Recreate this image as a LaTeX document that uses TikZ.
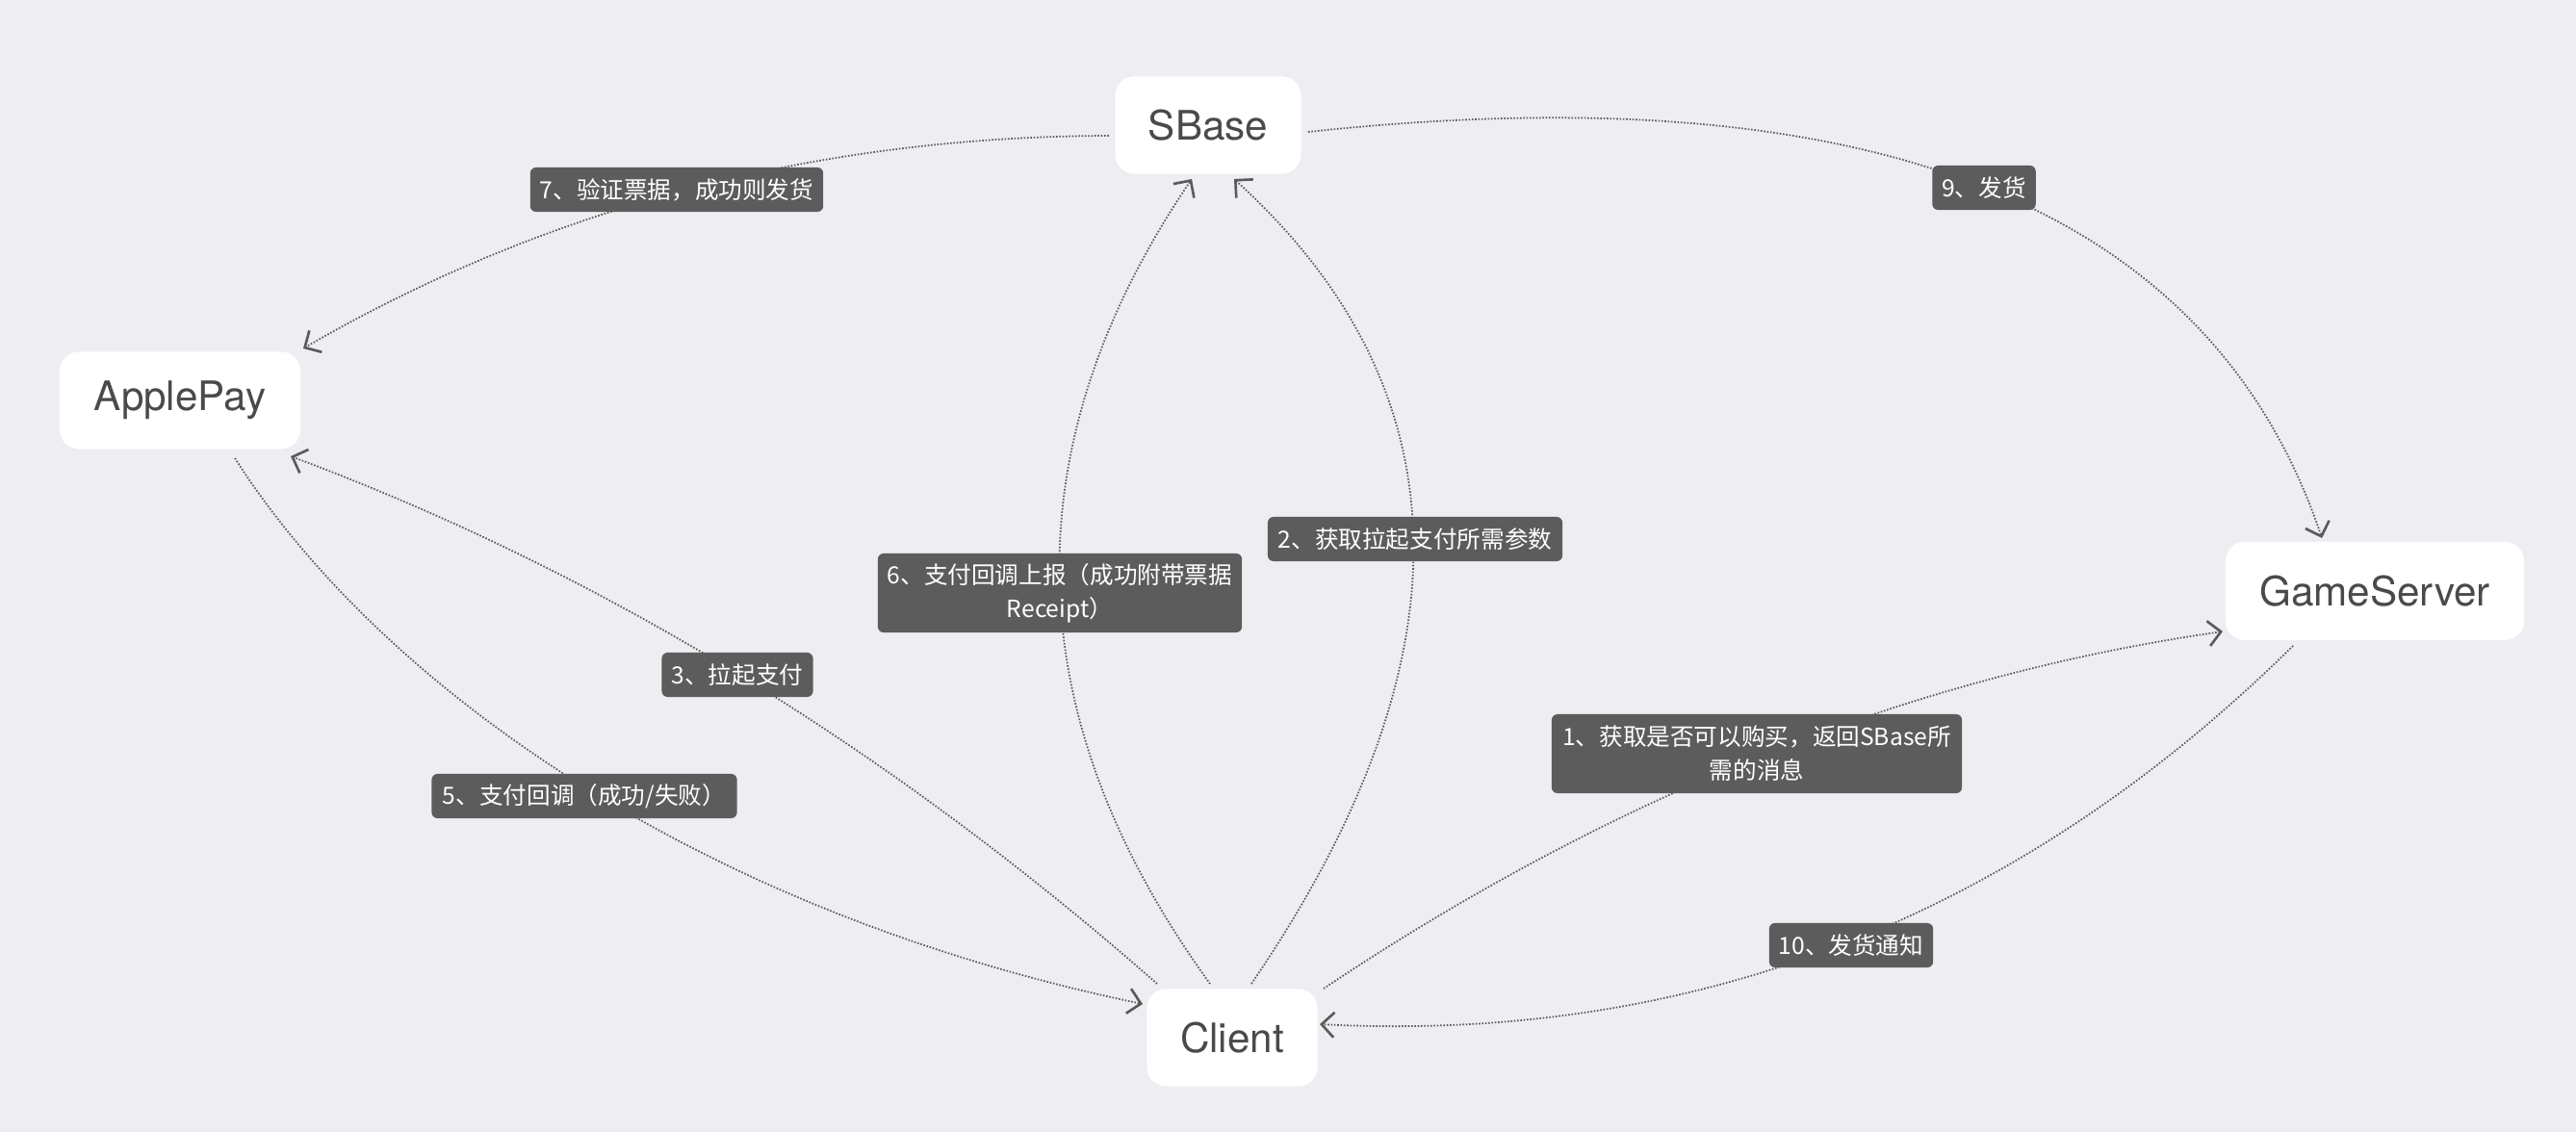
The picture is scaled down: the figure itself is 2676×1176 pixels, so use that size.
\documentclass[tikz,border=0pt]{standalone}
\usepackage{fontspec}
\setmainfont{TeX Gyre Heros}
\newfontfamily\cjk{Noto Sans CJK SC}
\usetikzlibrary{arrows.meta}
\definecolor{bgc}{HTML}{EEEEF2}
\definecolor{nodetext}{HTML}{4A4A4A}
\definecolor{labfill}{HTML}{5C5C5C}
\definecolor{linec}{HTML}{5A5A5A}
\tikzset{
  entity/.style={fill=white, rounded corners=0.2cm, inner sep=0pt, text=nodetext,
    font=\fontsize{12}{14}\selectfont, minimum height=1.01cm},
  lab/.style={fill=labfill, rounded corners=0.06cm, inner xsep=0.1cm, inner ysep=2.6pt,
    text=white, align=center, font=\cjk\fontsize{7}{10}\selectfont, minimum height=0.46cm},
  flow/.style={draw=linec, line width=0.5pt, dash pattern=on 0.45pt off 0.5pt,
    -{Straight Barb[length=0.13cm,width=0.26cm,line width=0.75pt]}},
}
\begin{document}
\begin{tikzpicture}[x=0.01cm,y=-0.01cm]
\fill[bgc] (0,0) rectangle (2676,1176);
\useasboundingbox (0,0) rectangle (2676,1176);

% entities
\node[entity, minimum width=1.93cm] (sbase) at (1255,130) {SBase};
\node[entity, minimum width=2.50cm] (applepay) at (187,416) {ApplePay};
\node[entity, minimum width=1.77cm] (client) at (1280,1078) {Client};
\node[entity, minimum width=3.10cm, minimum height=1.02cm] (gameserver) at (2467,614) {GameServer};

% connectors
% 1
\draw[flow] ([shift={(95,-51)}]client.center) .. controls (1677,825) and (1988,702) .. ([shift={(-158,42)}]gameserver.center);
% 2
\draw[flow] ([shift={(20,-56)}]client.center) .. controls (1530,685) and (1524,406) .. ([shift={(27,56)}]sbase.center);
% 3
\draw[flow] ([shift={(-78,-56)}]client.center) .. controls (921,775) and (621,593) .. ([shift={(115,58)}]applepay.center);
% 5
\draw[flow] ([shift={(57,60)}]applepay.center) .. controls (390,705) and (715,945) .. ([shift={(-93,-35)}]client.center);
% 6
\draw[flow] ([shift={(-23,-56)}]client.center) .. controls (1055,743) and (1049,465) .. ([shift={(-17,56)}]sbase.center);
% 7
\draw[flow] ([shift={(-103,11)}]sbase.center) .. controls (846,142) and (567,216) .. ([shift={(128,-54)}]applepay.center);
% 9
\draw[flow] ([shift={(104,7)}]sbase.center) .. controls (1945,74) and (2296,214) .. ([shift={(-55,-55)}]gameserver.center);
% 10
\draw[flow] ([shift={(-85,57)}]gameserver.center) .. controls (2096,953) and (1759,1084) .. ([shift={(91,-14)}]client.center);

% labels
\node[lab, minimum width=4.26cm, minimum height=0.82cm] (l1) at (1825,783) {1、获取是否可以购买，返回SBase所\\需的消息};
\node[lab, minimum width=3.06cm] (l2) at (1470,560) {2、获取拉起支付所需参数};
\node[lab, minimum width=1.57cm] (l3) at (766,701) {3、拉起支付};
\node[lab, minimum width=3.17cm] (l5) at (607,827) {5、支付回调（成功/失败）};
\node[lab, minimum width=3.78cm, minimum height=0.82cm] (l6) at (1101,616) {6、支付回调上报（成功附带票据\\Receipt）};
\node[lab, minimum width=3.04cm] (l7) at (703,197) {7、验证票据，成功则发货};
\node[lab, minimum width=1.05cm] (l9) at (2061,195) {9、发货};
\node[lab, minimum width=1.67cm] (l10) at (1923,982) {10、发货通知};
\end{tikzpicture}
\end{document}
